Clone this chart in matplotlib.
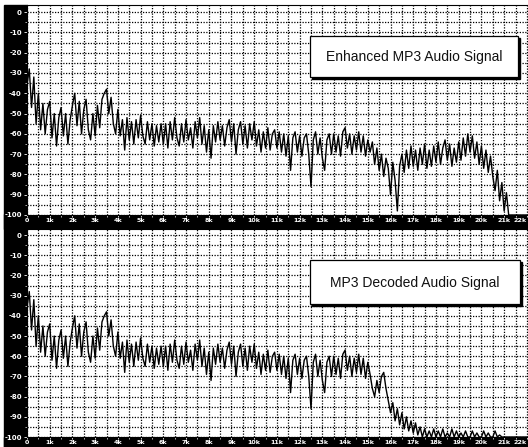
import numpy as np
import matplotlib
matplotlib.use("Agg")
import matplotlib.pyplot as plt
from matplotlib.patches import Rectangle
from matplotlib.ticker import MultipleLocator, FixedLocator

# ---------------- data (dB vs frequency in kHz, 0.1 kHz steps) ----------------
freq_step_khz = 0.1

# shared band 0.0 .. 15.0 kHz (identical in both spectra)
low_band_db = [
    -36, -28, -47, -32, -55, -40, -58, -45, -60, -48,   # 0.0-0.9
    -44, -62, -50, -66, -52, -47, -61, -50, -65, -53,   # 1.0-1.9
    -46, -40, -56, -44, -60, -48, -43, -58, -63, -50,   # 2.0-2.9
    -61, -46, -57, -43, -40, -38, -50, -42, -55, -60,   # 3.0-3.9
    -48, -61, -53, -68, -52, -63, -54, -65, -53, -62,   # 4.0-4.9
    -51, -61, -65, -54, -63, -55, -66, -56, -64, -55,   # 5.0-5.9
    -65, -55, -67, -54, -63, -52, -62, -66, -55, -64,   # 6.0-6.9
    -53, -63, -57, -67, -54, -62, -52, -65, -56, -69,   # 7.0-7.9
    -58, -72, -56, -64, -54, -63, -56, -66, -57, -53,   # 8.0-8.9
    -64, -55, -70, -58, -54, -65, -56, -67, -55, -63,   # 9.0-9.9
    -54, -66, -58, -69, -59, -67, -57, -68, -60, -58,   # 10.0-10.9
    -67, -59, -69, -60, -71, -61, -78, -62, -59, -69,   # 11.0-11.9
    -61, -71, -62, -60, -70, -86, -63, -59, -70, -62,   # 12.0-12.9
    -72, -78, -63, -60, -70, -60, -69, -61, -71, -59,   # 13.0-13.9
    -57, -67, -60, -70, -61, -68, -59, -69, -61, -71,   # 14.0-14.9
    -63,                                                # 15.0
]

# 15.1 .. 22.0 kHz
enhanced_high_db = [
    -69, -64, -75, -67, -78, -70, -81, -72, -77,        # 15.1-15.9
    -90, -74, -83, -98, -76, -70, -79, -68, -77, -66,   # 16.0-16.9
    -76, -68, -78, -67, -75, -65, -77, -68, -76, -66,   # 17.0-17.9
    -74, -64, -75, -67, -63, -73, -65, -76, -67, -74,   # 18.0-18.9
    -64, -73, -62, -71, -60, -69, -61, -72, -64, -75,   # 19.0-19.9
    -66, -77, -68, -79, -71, -81, -88, -78, -93, -84,   # 20.0-20.9
    -98, -89, -100, -100, -100, -100, -100, -100, -100, -100,  # 21.0-21.9
    -100,                                               # 22.0
]

decoded_high_db = [
    -69, -76, -80, -72, -78, -70, -68, -76, -82,        # 15.1-15.9
    -88, -83, -92, -86, -94, -88, -96, -90, -97, -92,   # 16.0-16.9
    -98, -93, -99, -95, -100, -96, -100, -97, -100, -96,  # 17.0-17.9
    -100, -97, -100, -96, -100, -98, -100, -96, -100, -97,  # 18.0-18.9
    -100, -98, -100, -97, -100, -100, -97, -100, -98, -100,  # 19.0-19.9
    -100, -97, -100, -98, -100, -100, -97, -100, -99, -100,  # 20.0-20.9
    -100, -100, -100, -100, -100, -100, -100, -100, -100, -100,  # 21.0-21.9
    -100,                                               # 22.0
]

enhanced_db = low_band_db + enhanced_high_db
decoded_db = low_band_db + decoded_high_db
freq_khz = np.arange(len(enhanced_db)) * freq_step_khz

panel_labels = ["Enhanced MP3 Audio Signal", "MP3 Decoded Audio Signal"]
y_ticks = [0, -10, -20, -30, -40, -50, -60, -70, -80, -90, -100]
y_tick_labels = [str(v) for v in y_ticks]
x_ticks = list(range(0, 23))
x_tick_labels = ["0"] + [f"{k}k" for k in range(1, 23)]

# ---------------- layout ----------------
W, H = 528, 447
fig = plt.figure(figsize=(W / 100, H / 100), dpi=100, facecolor="white")

def fx(x):
    return x / W

def fy(y):
    return 1 - y / H

# black frame strips
for (x0, y0, x1, y1) in [(4, 5, 27, 447), (4, 214, 528, 229), (4, 437, 528, 447)]:
    fig.patches.append(Rectangle((fx(x0), fy(y1)), fx(x1) - fx(x0), fy(y0) - fy(y1),
                                 transform=fig.transFigure, color="black", zorder=-5))

ax1 = fig.add_axes([fx(27), fy(215), fx(501), 210 / H])
ax2 = fig.add_axes([fx(27), fy(437), fx(501), 208 / H])

for ax, data, top in [(ax1, enhanced_db, 3.5), (ax2, decoded_db, 3.0)]:
    ax.set_facecolor("white")
    ax.plot(freq_khz, data, color="black", lw=1.0, zorder=3)
    ax.set_xlim(0, 22.05)
    ax.set_ylim(-100, top)
    ax.xaxis.set_major_locator(FixedLocator(x_ticks))
    ax.set_xticklabels(x_tick_labels)
    ax.yaxis.set_major_locator(FixedLocator(y_ticks))
    ax.set_yticklabels(y_tick_labels)
    ax.xaxis.set_minor_locator(MultipleLocator(0.5))
    ax.yaxis.set_minor_locator(MultipleLocator(5))
    ax.grid(which="both", color="black", linestyle=(0, (1, 1.2)), linewidth=0.9, zorder=1)
    ax.tick_params(axis="y", which="major", colors="white", labelsize=5,
                   length=2.5, width=0.6, pad=1.2, direction="out")
    ax.tick_params(axis="x", which="major", colors="white", labelsize=4.6,
                   length=1.6, width=0.6, pad=0.6, direction="out")
    ax.tick_params(axis="both", which="minor", colors="white", length=1.2, width=0.5,
                   direction="out")
    for lab in ax.get_xticklabels() + ax.get_yticklabels():
        lab.set_fontweight("bold")
    xl = ax.get_xticklabels()
    xl[-1].set_horizontalalignment("right")
    for s in ax.spines.values():
        s.set_color("black")
        s.set_linewidth(0.8)

# label boxes with drop shadow
def label_box(x0, y0, x1, y1, text):
    fig.patches.append(Rectangle((fx(x0 + 2), fy(y1 + 2)), fx(x1) - fx(x0), fy(y0) - fy(y1),
                                 transform=fig.transFigure, color="black", zorder=5))
    fig.patches.append(Rectangle((fx(x0), fy(y1)), fx(x1) - fx(x0), fy(y0) - fy(y1),
                                 transform=fig.transFigure, facecolor="white",
                                 edgecolor="black", linewidth=0.9, zorder=6))
    fig.text(fx((x0 + x1) / 2), fy((y0 + y1) / 2 + 1), text, ha="center", va="center",
             fontsize=10, family="Liberation Sans", color="#111111", zorder=7)

label_box(310, 36, 518, 77, panel_labels[0])
label_box(310, 260, 520, 304, panel_labels[1])

fig.savefig("out.png", dpi=100, facecolor="white")
